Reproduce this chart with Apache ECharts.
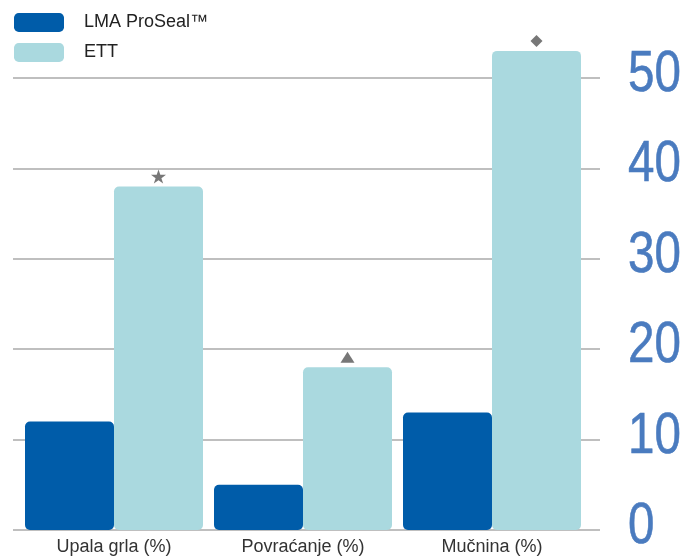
<!DOCTYPE html>
<html><head><meta charset="utf-8">
<script src="https://cdn.jsdelivr.net/npm/echarts@6/dist/echarts.min.js"></script>
<style>html,body{margin:0;padding:0;background:#fff}#c{width:692px;height:559px}</style>
</head><body><div id="c"></div>
<script>
var categories = ['Upala grla (%)', 'Povraćanje (%)', 'Mučnina (%)'];
var seriesNames = ['LMA ProSeal™', 'ETT'];
var lmaValues = [12, 5, 13];
var ettValues = [38, 18, 53];
var markers = ['star', 'triangle', 'diamond'];
var yTicks = [0, 10, 20, 30, 40, 50];

var symbolMap = {
  star: 'path://M50,0 L61.8,35.3 L98.9,35.3 L68.9,57.1 L80.4,92.4 L50,70.6 L19.6,92.4 L31.1,57.1 L1.1,35.3 L38.2,35.3 Z',
  triangle: 'triangle',
  diamond: 'diamond'
};
var symbolSizes = { star: [15, 14], triangle: [14, 11], diamond: [12, 12] };

var chart = echarts.init(document.getElementById('c'), null, { renderer: 'canvas' });
var yMin = yTicks[0], yMax = yTicks[yTicks.length - 1], yInt = yTicks[1] - yTicks[0];
chart.setOption({
  animation: false,
  backgroundColor: '#fff',
  legend: {
    data: seriesNames,
    orient: 'vertical',
    left: 14, top: 13, padding: 0,
    itemWidth: 50, itemHeight: 19, itemGap: 11,
    icon: 'roundRect',
    textStyle: { fontFamily: 'Liberation Sans, Arial, sans-serif', fontSize: 18, color: '#222', padding: [0, 0, 0, 15] }
  },
  grid: [
    { left: 19.5, right: 105.5, top: 78, bottom: 29 },
    { left: 13, right: 92, top: 78, bottom: 29 }
  ],
  xAxis: [
    { type: 'category', gridIndex: 0, data: categories,
      axisLine: { show: false }, axisTick: { show: false },
      axisLabel: { fontFamily: 'Liberation Sans, Arial, sans-serif', fontSize: 18, color: '#333', margin: 8 } },
    { type: 'value', gridIndex: 1, show: false }
  ],
  yAxis: [
    { type: 'value', gridIndex: 0, min: yMin, max: yMax, interval: yInt, show: false },
    { type: 'value', gridIndex: 1, min: yMin, max: yMax, interval: yInt, position: 'right',
      axisLine: { show: false }, axisTick: { show: false },
      splitLine: { show: true, lineStyle: { color: '#aaa', width: 1.5 } },
      axisLabel: { show: false } }
  ],
  series: [
    { name: seriesNames[0], type: 'bar', xAxisIndex: 0, yAxisIndex: 0, data: lmaValues,
      barWidth: 89, barGap: '0%', clip: false,
      itemStyle: { color: '#005ca9', borderRadius: 5 } },
    { name: seriesNames[1], type: 'bar', xAxisIndex: 0, yAxisIndex: 0, data: ettValues,
      barWidth: 89, barGap: '0%', clip: false,
      itemStyle: { color: '#aad9df', borderRadius: 5 } },
    { name: 'marks', type: 'scatter', xAxisIndex: 0, yAxisIndex: 0, clip: false, z: 5,
      data: ettValues.map(function (v, i) {
        return { value: [i, v], symbol: symbolMap[markers[i]], symbolSize: symbolSizes[markers[i]] };
      }),
      symbolOffset: [44.5, -10],
      itemStyle: { color: '#555' } }
  ]
});

// Condensed-looking tick labels placed through the y axis scale
var labelX = 628;
chart.setOption({
  graphic: yTicks.map(function (t) {
    var py = chart.convertToPixel({ yAxisIndex: 1 }, t);
    return {
      type: 'text', x: labelX, y: py - 3, scaleX: 0.82, silent: true,
      style: { text: String(t), font: '58px "Liberation Sans", Arial, sans-serif',
        fill: '#4a7bbf', stroke: '#4a7bbf', lineWidth: 0.6,
        textAlign: 'left', textVerticalAlign: 'middle' }
    };
  })
});
</script></body></html>
